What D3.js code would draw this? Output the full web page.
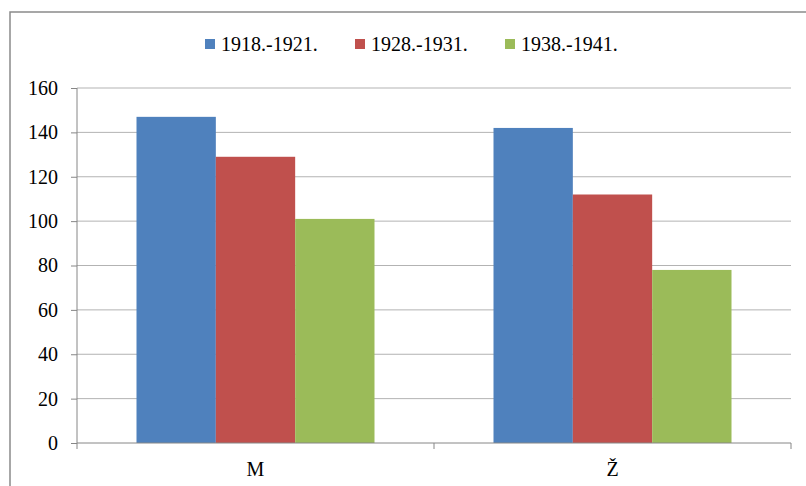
<!DOCTYPE html>
<html><head><meta charset="utf-8">
<script src="https://cdn.jsdelivr.net/npm/d3@7"></script>
<style>body{margin:0;background:#fff}svg{display:block}</style>
</head><body><svg id="c" width="806" height="486"></svg>
<script>
const categories = ["M", "Ž"];
const seriesNames = ["1918.-1921.", "1928.-1931.", "1938.-1941."];
const series1 = [147, 142];
const series2 = [129, 112];
const series3 = [101, 78];
const yTicks = [0, 20, 40, 60, 80, 100, 120, 140, 160];
const colors = ["#4F81BD", "#C0504D", "#9BBB59"];

const values = [series1, series2, series3];
const svg = d3.select("#c");
const font = "'Liberation Serif', 'Times New Roman', serif";

// outer border
svg.append("rect").attr("x", 10).attr("y", 12).attr("width", 820).attr("height", 500)
  .attr("fill", "none").attr("stroke", "#8a8a8a").attr("stroke-width", 1.5);

const pLeft = 77, pRight = 791, pTop = 88, pBottom = 443;
const x = d3.scaleBand().domain(categories).range([pLeft, pRight]).paddingInner(0).paddingOuter(0);
const y = d3.scaleLinear().domain([0, 160]).range([pBottom, pTop]);
const xs = d3.scaleBand().domain(d3.range(3)).range([0, x.bandwidth()]).paddingInner(0).paddingOuter(0.75);

// gridlines
svg.append("g").selectAll("line").data(yTicks.filter(d => d > 0)).join("line")
  .attr("x1", pLeft).attr("x2", pRight).attr("y1", d => y(d)).attr("y2", d => y(d))
  .attr("stroke", "#b3b3b3").attr("stroke-width", 1);

// bars
values.forEach((vals, si) => {
  svg.append("g").selectAll("rect").data(vals).join("rect")
    .attr("x", (d, i) => x(categories[i]) + xs(si))
    .attr("width", xs.bandwidth())
    .attr("y", d => y(d))
    .attr("height", d => pBottom - y(d))
    .attr("fill", colors[si]);
});

// y axis
const yAxis = d3.axisLeft(y).tickValues(yTicks).tickSize(6).tickPadding(13).tickFormat(d3.format("d"));
const gy = svg.append("g").attr("transform", `translate(${pLeft},0)`).call(yAxis);
gy.select(".domain").attr("stroke", "#868686").attr("d", `M0,${pTop}V${pBottom}`);
gy.selectAll(".tick line").attr("stroke", "#868686");
gy.selectAll(".tick text").attr("font-family", font).attr("font-size", 20).attr("fill", "#000");

// x axis
const gx = svg.append("g").attr("transform", `translate(0,${pBottom})`);
gx.append("line").attr("x1", pLeft).attr("x2", pRight).attr("y1", 0).attr("y2", 0).attr("stroke", "#868686");
gx.selectAll(".tk").data([pLeft, ...categories.map(c => x(c) + x.bandwidth())]).join("line")
  .attr("class", "tk").attr("x1", d => d).attr("x2", d => d).attr("y1", 0).attr("y2", 6).attr("stroke", "#868686");
gx.selectAll("text").data(categories).join("text")
  .attr("x", d => x(d) + x.bandwidth() / 2).attr("y", 33)
  .attr("text-anchor", "middle").attr("font-family", font).attr("font-size", 20).attr("fill", "#000")
  .text(d => d);

// legend
const legX = [205, 355, 505];
const lg = svg.append("g");
seriesNames.forEach((n, i) => {
  lg.append("rect").attr("x", legX[i]).attr("y", 39).attr("width", 10).attr("height", 10).attr("fill", colors[i]);
  lg.append("text").attr("x", legX[i] + 16).attr("y", 51).attr("font-family", font).attr("font-size", 20)
    .attr("fill", "#000").text(n);
});
</script></body></html>
